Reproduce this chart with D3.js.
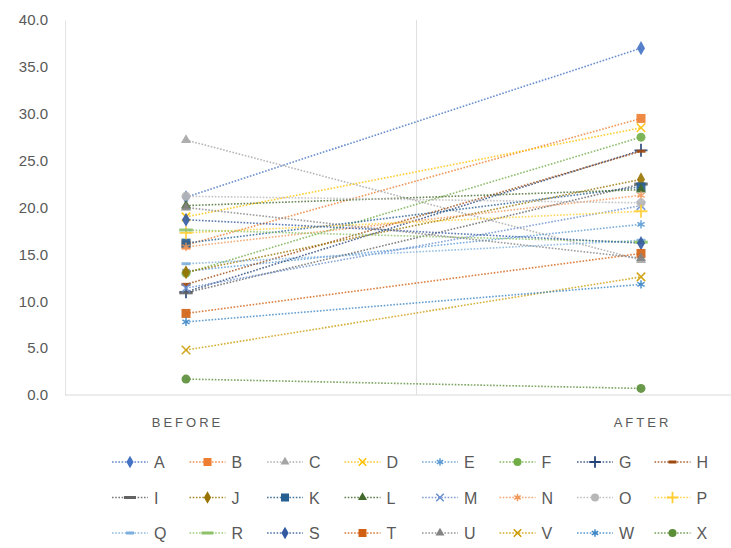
<!DOCTYPE html>
<html>
<head>
<meta charset="utf-8">
<script src="https://cdn.jsdelivr.net/npm/d3@7"></script>
<style>
  body { margin: 0; background: #fff; }
  text { font-family: "Liberation Sans", Arial, sans-serif; fill: #595959; }
</style>
</head>
<body>
<div id="chart"></div>
<script>
// Data
const categories = ["BEFORE", "AFTER"]
const seriesNames = ["A","B","C","D","E","F","G","H","I","J","K","L","M","N","O","P","Q","R","S","T","U","V","W","X"]
const beforeValues = [21.1, 16.0, 27.2, 19.0, 13.2, 13.0, 11.0, 11.8, 10.9, 13.1, 16.2, 20.2, 11.4, 15.8, 21.2, 17.3, 14.0, 17.6, 18.7, 8.7, 20.0, 4.8, 7.8, 1.7]
const afterValues  = [37.0, 29.5, 14.4, 28.5, 18.2, 27.5, 26.1, 26.0, 22.5, 23.0, 22.2, 21.9, 20.2, 21.3, 20.5, 19.6, 16.5, 16.3, 16.2, 15.1, 14.6, 12.6, 11.8, 0.7]
const yTicks = [0, 5, 10, 15, 20, 25, 30, 35, 40]

const seriesColors = ["#4472C4","#ED7D31","#A5A5A5","#FFC000","#5B9BD5","#70AD47",
  "#264478","#9E480E","#636363","#997300","#255E91","#43682B",
  "#698ED0","#F1975A","#B7B7B7","#FFCD33","#7CAFDD","#8CC168",
  "#335AA1","#D26012","#848484","#CC9A00","#3C86C6","#5A8E37"]
const markerCycle = ["diamond","square","triangle","x","star","circle","plus","dash","longdash"]

const series = seriesNames.map((name, i) => ({
  name,
  color: seriesColors[i],
  marker: markerCycle[i % markerCycle.length],
  values: [
    { cat: categories[0], value: beforeValues[i] },
    { cat: categories[1], value: afterValues[i] }
  ]
}))

// Dimensions
const dimensions = { width: 731, height: 548, left: 65, top: 20, bottom: 395 }

const svg = d3.select("#chart")
  .append("svg")
  .attr("width", dimensions.width)
  .attr("height", dimensions.height)

const xScale = d3.scalePoint()
  .domain(categories)
  .range([186, 641])

const yScale = d3.scaleLinear()
  .domain([0, 40])
  .range([dimensions.bottom, dimensions.top])

// Axes
const yAxis = d3.axisLeft(yScale)
  .tickValues(yTicks)
  .tickFormat(d3.format(".1f"))
  .tickSize(0)
  .tickPadding(17)

const yAxisGroup = svg.append("g")
  .attr("transform", `translate(${dimensions.left},0)`)
  .call(yAxis)
yAxisGroup.select(".domain").attr("stroke", "#e3e3e3")
yAxisGroup.selectAll("text")
  .style("font-size", "15px")
  .attr("fill", "#595959")

svg.append("line")
  .attr("x1", dimensions.left).attr("x2", dimensions.width)
  .attr("y1", dimensions.bottom).attr("y2", dimensions.bottom)
  .attr("stroke", "#d9d9d9")

const midX = (xScale(categories[0]) + xScale(categories[1])) / 2 + 3
svg.append("line")
  .attr("x1", midX).attr("x2", midX)
  .attr("y1", dimensions.top).attr("y2", dimensions.bottom)
  .attr("stroke", "#e0e0e0")

svg.append("g")
  .selectAll("text")
  .data(categories)
  .join("text")
  .attr("x", d => xScale(d) + 1.5)
  .attr("y", 427)
  .attr("text-anchor", "middle")
  .style("font-size", "13px")
  .style("letter-spacing", "3px")
  .text(d => d)

// Markers
function drawMarker(g, type, color, size) {
  const s = size
  if (type === "diamond") {
    g.append("path").attr("d", d3.symbol(d3.symbolDiamond, s * s * 0.7)()).attr("fill", color)
  } else if (type === "square") {
    g.append("rect").attr("x", -s / 2).attr("y", -s / 2).attr("width", s).attr("height", s).attr("fill", color)
  } else if (type === "triangle") {
    g.append("path").attr("d", d3.symbol(d3.symbolTriangle, s * s * 0.55)()).attr("fill", color)
  } else if (type === "circle") {
    g.append("circle").attr("r", s / 2).attr("fill", color)
  } else if (type === "x") {
    g.append("path").attr("d", d3.symbol(d3.symbolTimes, s * s * 0.6)()).attr("fill", "none").attr("stroke", color).attr("stroke-width", 1.5)
  } else if (type === "star") {
    g.append("path").attr("d", d3.symbol(d3.symbolAsterisk, s * s * 0.6)()).attr("fill", "none").attr("stroke", color).attr("stroke-width", 1.5)
  } else if (type === "plus") {
    g.append("path").attr("d", d3.symbol(d3.symbolPlus, s * s * 0.7)()).attr("fill", "none").attr("stroke", color).attr("stroke-width", 1.8)
  } else if (type === "dash") {
    g.append("rect").attr("x", -s / 2).attr("y", -1.5).attr("width", s).attr("height", 3).attr("fill", color)
  } else {
    g.append("rect").attr("x", -s * 0.75).attr("y", -1.5).attr("width", s * 1.5).attr("height", 3).attr("fill", color)
  }
}

const line = d3.line()
  .x(d => xScale(d.cat))
  .y(d => yScale(d.value))

const plot = svg.append("g")

plot.selectAll("path.series")
  .data(series)
  .join("path")
  .classed("series", true)
  .attr("d", d => line(d.values))
  .attr("fill", "none")
  .attr("stroke", d => d.color)
  .attr("stroke-opacity", 0.8)
  .attr("stroke-width", 1.6)
  .attr("stroke-dasharray", "1.6,1.6")

series.forEach(s => {
  s.values.forEach(v => {
    const g = plot.append("g")
      .attr("transform", `translate(${xScale(v.cat)},${yScale(v.value)})`)
      .attr("opacity", 0.9)
    drawMarker(g, s.marker, s.color, 9)
  })
})

// Legend
const legend = svg.append("g")
const legendItems = legend.selectAll("g")
  .data(series)
  .join("g")
  .attr("transform", (d, i) => `translate(${112 + (i % 8) * 77.5},${462 + Math.floor(i / 8) * 35.5})`)

legendItems.append("line")
  .attr("x1", 0).attr("x2", 36)
  .attr("stroke", d => d.color)
  .attr("stroke-opacity", 0.85)
  .attr("stroke-width", 1.6)
  .attr("stroke-dasharray", "1.6,1.6")

legendItems.each(function (d) {
  const g = d3.select(this).append("g").attr("transform", "translate(18,0)")
  drawMarker(g, d.marker, d.color, 8)
})

legendItems.append("text")
  .attr("x", 42)
  .attr("y", 6)
  .style("font-size", "16px")
  .text(d => d.name)
</script>
</body>
</html>
